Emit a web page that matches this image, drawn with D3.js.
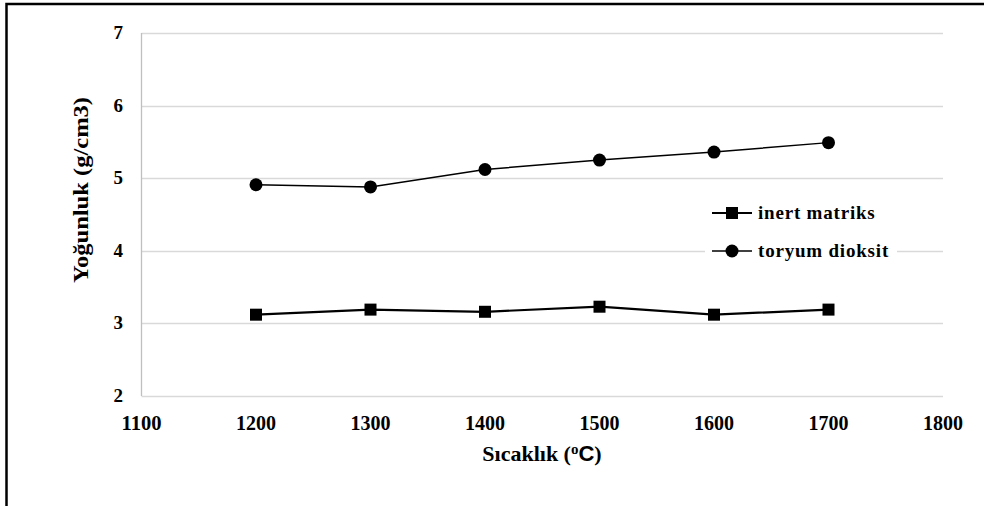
<!DOCTYPE html>
<html>
<head>
<meta charset="utf-8">
<script src="https://cdn.jsdelivr.net/npm/d3@7"></script>
<style>
  body { margin: 0; background: #fff; }
  svg { display: block; }
  svg text { font-family: 'Liberation Serif', 'DejaVu Serif', serif; font-weight: bold; }
</style>
</head>
<body>
<div id="container"></div>
<script>
const temperatures = [1200, 1300, 1400, 1500, 1600, 1700];
const inertMatriks = [3.12, 3.19, 3.16, 3.23, 3.12, 3.19];
const toryumDioksit = [4.91, 4.88, 5.12, 5.25, 5.36, 5.49];
const xTicks = [1100, 1200, 1300, 1400, 1500, 1600, 1700, 1800];
const yTicks = [2, 3, 4, 5, 6, 7];

const width = 984, height = 506;
const serif = "'Liberation Serif', 'DejaVu Serif', serif";
const svg = d3.select('#container').append('svg')
  .attr('width', width)
  .attr('height', height)
  .attr('font-family', serif)
  .attr('font-weight', 'bold');

// frame: only top and left edges show in the picture
svg.append('path')
  .attr('d', 'M6.5,506V4H984')
  .attr('fill', 'none')
  .attr('stroke', '#000')
  .attr('stroke-width', 2.5);

const x = d3.scaleLinear().domain([1100, 1800]).range([141.5, 943]);
const y = d3.scaleLinear().domain([2, 7]).range([396, 33]);

// gridlines
svg.append('g')
  .selectAll('line')
  .data(yTicks)
  .join('line')
    .attr('x1', x(1100))
    .attr('x2', x(1800))
    .attr('y1', d => Math.round(y(d)) + 0.5)
    .attr('y2', d => Math.round(y(d)) + 0.5)
    .attr('stroke', '#d9d9d9')
    .attr('stroke-width', 1.3);

svg.append('line')
  .attr('x1', x(1100)).attr('x2', x(1100))
  .attr('y1', y(7)).attr('y2', y(2))
  .attr('stroke', '#bfbfbf')
  .attr('stroke-width', 1.3);

// tick labels
svg.append('g')
  .selectAll('text')
  .data(yTicks)
  .join('text')
    .attr('x', 123)
    .attr('y', d => y(d) + 6)
    .attr('text-anchor', 'end')
    .attr('font-size', 19)
    .text(d => d);

svg.append('g')
  .selectAll('text')
  .data(xTicks)
  .join('text')
    .attr('x', d => x(d))
    .attr('y', 430)
    .attr('text-anchor', 'middle')
    .attr('font-size', 21)
    .attr('textLength', 40)
    .attr('lengthAdjust', 'spacingAndGlyphs')
    .text(d => d);

// axis titles
const xTitle = svg.append('text')
  .attr('x', 542)
  .attr('y', 461)
  .attr('text-anchor', 'middle')
  .attr('font-size', 22);
xTitle.append('tspan').text('Sıcaklık (');
xTitle.append('tspan').attr('font-size', 15).attr('dy', -7).text('o');
xTitle.append('tspan').attr('dy', 7).attr('font-family', "'Liberation Sans', Arial, sans-serif").attr('font-size', 22).text('C');
xTitle.append('tspan').text(')');

svg.append('text')
  .attr('transform', 'translate(88,190) rotate(-90)')
  .attr('text-anchor', 'middle')
  .attr('font-size', 21)
  .attr('textLength', 186)
  .attr('lengthAdjust', 'spacingAndGlyphs')
  .text('Yoğunluk (g/cm3)');

const line = d3.line()
  .x((d, i) => x(temperatures[i]))
  .y(d => y(d));

// series
svg.append('path')
  .datum(inertMatriks)
  .attr('d', line)
  .attr('fill', 'none')
  .attr('stroke', '#000')
  .attr('stroke-width', 2.2);

svg.append('g')
  .selectAll('rect')
  .data(inertMatriks)
  .join('rect')
    .attr('x', (d, i) => x(temperatures[i]) - 6)
    .attr('y', d => y(d) - 6)
    .attr('width', 12)
    .attr('height', 12)
    .attr('fill', '#000');

svg.append('path')
  .datum(toryumDioksit)
  .attr('d', line)
  .attr('fill', 'none')
  .attr('stroke', '#000')
  .attr('stroke-width', 1.5);

svg.append('g')
  .selectAll('circle')
  .data(toryumDioksit)
  .join('circle')
    .attr('cx', (d, i) => x(temperatures[i]))
    .attr('cy', d => y(d))
    .attr('r', 6.5)
    .attr('fill', '#000');

// legend
const legend = svg.append('g').attr('transform', 'translate(705, 195)');
legend.append('rect')
  .attr('x', 0).attr('y', 0)
  .attr('width', 192).attr('height', 72)
  .attr('fill', '#fff');

const legendItems = ['inert matriks', 'toryum dioksit'];
legendItems.forEach((name, i) => {
  const g = legend.append('g').attr('transform', 'translate(0,' + (18 + i * 38) + ')');
  g.append('line')
    .attr('x1', 7).attr('x2', 47)
    .attr('y1', 0).attr('y2', 0)
    .attr('stroke', '#000')
    .attr('stroke-width', i === 0 ? 2.2 : 1.5);
  if (i === 0) {
    g.append('rect').attr('x', 21).attr('y', -6).attr('width', 12).attr('height', 12).attr('fill', '#000');
  } else {
    g.append('circle').attr('cx', 27).attr('cy', 0).attr('r', 6.5).attr('fill', '#000');
  }
  g.append('text')
    .attr('x', 53)
    .attr('y', 6)
    .attr('font-size', 19)
    .attr('letter-spacing', 0.8)
    .text(name);
});
</script>
</body>
</html>
